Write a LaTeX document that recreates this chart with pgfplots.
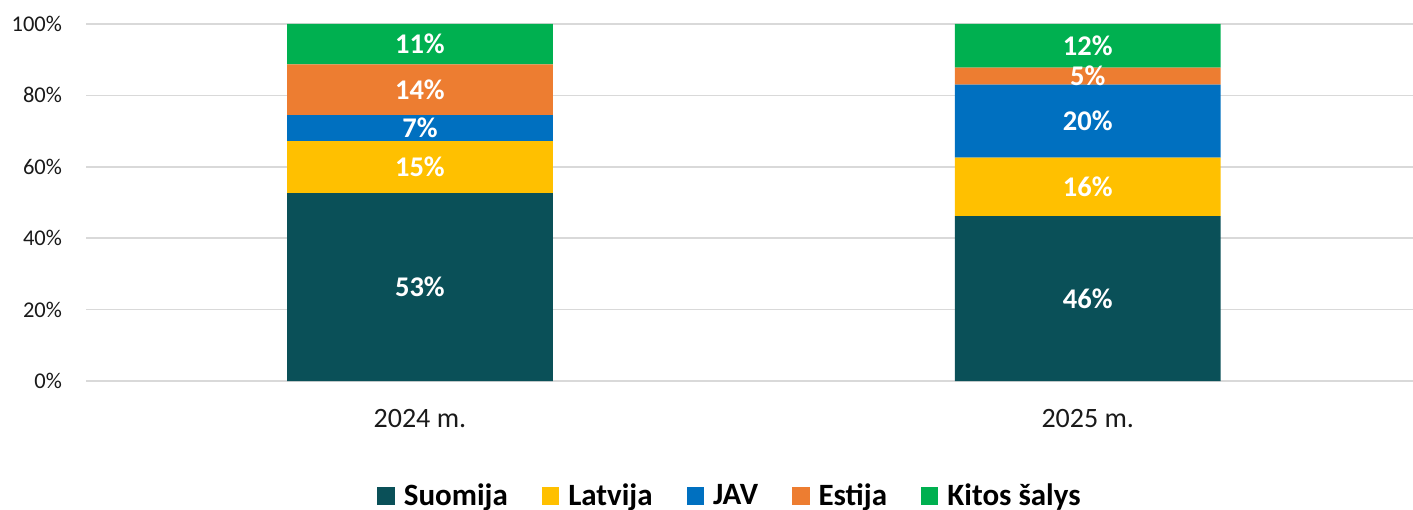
\documentclass[border=0pt]{standalone}
\usepackage{fontspec}
\setmainfont{Carlito}
\usepackage{pgfplots}
\pgfplotsset{compat=1.18}
\definecolor{cSuo}{HTML}{0A5058}
\definecolor{cLat}{HTML}{FFC000}
\definecolor{cJav}{HTML}{0070C0}
\definecolor{cEst}{HTML}{ED7D31}
\definecolor{cKit}{HTML}{00B050}
\definecolor{cGrid}{HTML}{D9D9D9}
\definecolor{cTxt}{HTML}{1A1A1A}
\begin{document}
\begin{tikzpicture}
\useasboundingbox (0,0) rectangle (706.5pt,254.5pt);
\begin{axis}[
  at={(43pt,64pt)}, anchor=south west,
  width=663.5pt, height=178.5pt, scale only axis,
  ybar stacked, bar width=0.398,
  xmin=-0.5, xmax=1.487, ymin=0, ymax=100,
  xtick={0,1}, xticklabels={2024 m.,2025 m.},
  ytick={0,20,40,60,80,100},
  yticklabel={\pgfmathprintnumber{\tick}\%},
  /pgf/number format/assume math mode=true,
  ymajorgrids, grid style={cGrid, line width=0.8pt},
  axis line style={draw=none}, major tick length=0pt, tick style={draw=none},
  yticklabel style={font=\fontsize{11.25}{13}\selectfont, text=cTxt, anchor=east, inner sep=0pt, xshift=-11.85pt},
  xticklabel style={font=\fontsize{14}{16}\selectfont, text=cTxt, anchor=base, inner sep=0pt, yshift=-23.15pt},
  nodes near coords={\pgfmathprintnumber[fixed,precision=0]{\rawy}\%},
  visualization depends on=rawy \as \rawy,
  every node near coord/.append style={anchor=center, inner sep=0pt, text=white,
     font=\bfseries\fontsize{14.25}{16}\selectfont},
  legend columns=-1,
  legend style={at={(0.4846,-0.322)}, anchor=center, draw=none, fill=none,
     font=\bfseries\fontsize{15.5}{17}\selectfont, text=black,
     inner sep=0pt, nodes={inner sep=0pt},
     /tikz/every odd column/.append style={column sep=4.5pt},
     /tikz/every even column/.append style={column sep=17pt}},
  legend image code/.code={\fill[#1] (0pt,-4.35pt) rectangle (8.7pt,4.35pt);},
]
\addplot[fill=cSuo, draw=none] coordinates {(0,52.6) (1,46.2)};
\addplot[fill=cLat, draw=none] coordinates {(0,14.6) (1,16.4)};
\addplot[fill=cJav, draw=none] coordinates {(0,7.3) (1,20.4)};
\addplot[fill=cEst, draw=none] coordinates {(0,14.2) (1,4.8)};
\addplot[fill=cKit, draw=none] coordinates {(0,11.3) (1,12.2)};
\legend{Suomija,Latvija,JAV,Estija,Kitos šalys}
\end{axis}
\end{tikzpicture}
\end{document}
